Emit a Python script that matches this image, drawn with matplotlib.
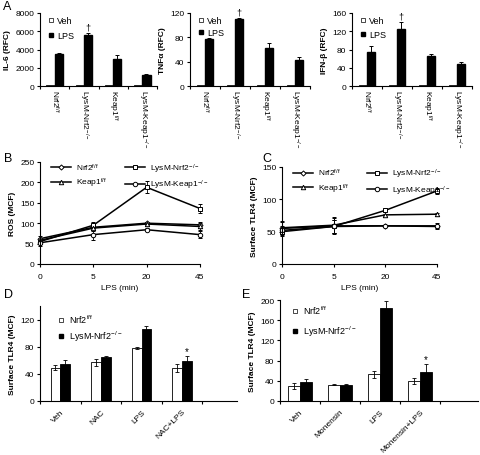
import numpy as np
import matplotlib.pyplot as plt
from matplotlib.lines import Line2D

plt.rcParams['font.family'] = ['Liberation Sans', 'DejaVu Sans']
plt.rcParams['mathtext.fontset'] = 'custom'
plt.rcParams['mathtext.rm'] = 'Liberation Sans'
plt.rcParams['mathtext.it'] = 'Liberation Sans:italic'
plt.rcParams['mathtext.bf'] = 'Liberation Sans:bold'
plt.rcParams['font.size'] = 6
plt.rcParams['axes.linewidth'] = 0.8
plt.rcParams['xtick.major.width'] = 0.8
plt.rcParams['ytick.major.width'] = 0.8
plt.rcParams['xtick.minor.width'] = 0.8
plt.rcParams['ytick.major.size'] = 2.5
plt.rcParams['xtick.minor.size'] = 2.5

# --- data ---
genotypes = ['Nrf2$^{\\mathrm{f/f}}$', 'LysM-Nrf2$^{\\mathrm{-/-}}$',
             'Keap1$^{\\mathrm{f/f}}$', 'LysM-Keap1$^{\\mathrm{-/-}}$']

il6_veh = [60, 60, 60, 60]
il6_lps = [3500, 5600, 3000, 1200]
il6_err = [100, 250, 400, 100]

tnf_veh = [1, 1, 1, 1]
tnf_lps = [78, 110, 62, 43]
tnf_err = [1, 2, 8, 4]

ifn_veh = [1.5, 2, 1.5, 1.5]
ifn_lps = [75, 125, 65, 49]
ifn_err = [12, 15, 5, 3]

time_labels = ['0', '5', '20', '45']
line_names = genotypes
line_markers = ['D', 's', '^', 'o']

ros_vals = [[62, 90, 100, 96],
            [55, 95, 188, 136],
            [58, 88, 98, 92],
            [52, 72, 84, 72]]
ros_err = [[6, 6, 4, 8],
           [5, 8, 15, 10],
           [6, 6, 4, 8],
           [8, 12, 4, 8]]

tlr_vals = [[55, 59, 59, 58],
            [50, 58, 83, 113],
            [56, 60, 76, 77],
            [52, 58, 59, 59]]
tlr_err = [[10, 12, 2, 3],
           [6, 10, 3, 5],
           [10, 12, 2, 2],
           [6, 10, 2, 5]]

nac_groups = ['Veh', 'NAC', 'LPS', 'NAC+LPS']
nac_wt = [49, 57, 78, 49]
nac_wt_err = [4, 5, 2, 6]
nac_ko = [54, 65, 106, 59]
nac_ko_err = [7, 2, 4, 7]

mon_groups = ['Veh', 'Monensin', 'LPS', 'Monensin+LPS']
mon_wt = [30, 32, 53, 39]
mon_wt_err = [6, 1, 7, 6]
mon_ko = [38, 32, 185, 57]
mon_ko_err = [6, 1, 13, 16]

W, H = 480, 456


def px_rect(l, t, r, b):
    return [l / W, 1 - b / H, (r - l) / W, (b - t) / H]


def style_axes(ax):
    ax.spines['top'].set_visible(False)
    ax.spines['right'].set_visible(False)
    ax.tick_params(axis='y', direction='out', pad=1.5, labelsize=6)


fig = plt.figure(figsize=(4.8, 4.56), dpi=100)


# --- panel A ---
def panel_a(rect, veh, lps, err, ylabel, ymax, yticks, legend_spacing):
    ax = fig.add_axes(px_rect(*rect))
    x = np.arange(len(genotypes))
    w = 0.28
    ax.bar(x - w / 2, veh, w, color='white', edgecolor='black', lw=0.6)
    ax.bar(x + w / 2, lps, w, yerr=err, color='black', edgecolor='black',
           error_kw=dict(lw=0.7, capsize=1.5, capthick=0.7))
    ax.text(x[1] + w / 2, lps[1] + err[1] + ymax * 0.02, '\u2020',
            ha='center', va='bottom', fontsize=6.5)
    ax.set_xlim(-0.5, 3.5)
    ax.set_ylim(0, ymax)
    ax.set_yticks(yticks)
    ax.set_xticks(x)
    ax.set_xticklabels(genotypes, rotation=-90, ha='center', va='top', fontsize=6)
    ax.set_xticks(np.arange(-0.5, 4, 1), minor=True)
    ax.tick_params(axis='x', which='major', length=0, pad=2)
    ax.set_ylabel(ylabel, fontweight='bold', fontsize=6, labelpad=3)
    style_axes(ax)
    handles = [Line2D([], [], ls='none', marker='s', ms=3.5, mfc='white', mec='black', mew=0.5),
               Line2D([], [], ls='none', marker='s', ms=3.5, mfc='black', mec='black')]
    ax.legend(handles, ['Veh', 'LPS'], loc='upper left', bbox_to_anchor=(0.02, 1.04),
              frameon=False, handlelength=0.6, handletextpad=0.3,
              labelspacing=legend_spacing, fontsize=6.5, borderpad=0.2)
    return ax


panel_a((40, 14, 157, 87), il6_veh, il6_lps, il6_err, 'IL-6 (RFC)', 8000,
        [0, 2000, 4000, 6000, 8000], 0.6)
panel_a((190, 14, 310, 87), tnf_veh, tnf_lps, tnf_err, 'TNF\u03b1 (RFC)', 120,
        [0, 40, 80, 120], 0.3)
panel_a((352, 14, 472, 87), ifn_veh, ifn_lps, ifn_err, 'IFN-\u03b2 (RFC)', 160,
        [0, 40, 80, 120, 160], 0.5)


# --- panels B and C ---
def panel_line(rect, vals, errs, ylabel, ymax, yticks):
    ax = fig.add_axes(px_rect(*rect))
    x = np.arange(len(time_labels))
    handles = []
    for name, mk, v, e in zip(line_names, line_markers, vals, errs):
        ms = 3.2 if mk != 'D' else 2.6
        ax.errorbar(x, v, yerr=e, color='black', lw=1.1, marker=mk,
                    ms=ms, mfc='white', mec='black', mew=0.7,
                    elinewidth=0.6, capsize=1.5, capthick=0.6, clip_on=False)
        handles.append(Line2D([], [], color='black', lw=1.1, marker=mk, ms=ms,
                              mfc='white', mec='black', mew=0.7))
    ax.set_xlim(0, 3)
    ax.set_ylim(0, ymax)
    ax.set_yticks(yticks)
    ax.set_xticks(x)
    ax.set_xticklabels(time_labels, fontsize=6)
    ax.tick_params(axis='x', direction='out', length=2.5, pad=4)
    ax.set_xlabel('LPS (min)', fontsize=6, labelpad=3)
    ax.set_ylabel(ylabel, fontweight='bold', fontsize=6, labelpad=3)
    style_axes(ax)
    order = [0, 2, 1, 3]
    ax.legend([handles[i] for i in order], [line_names[i] for i in order], ncol=2,
              loc='upper left', bbox_to_anchor=(0.02, 1.08), frameon=False,
              handlelength=2.4, handletextpad=0.6, columnspacing=2.2,
              labelspacing=0.4, fontsize=6)
    return ax


panel_line((40, 163, 200, 265), ros_vals, ros_err, 'ROS (MCF)', 250,
           [0, 50, 100, 150, 200, 250])
panel_line((282, 168, 437, 265), tlr_vals, tlr_err, 'Surface TLR4 (MCF)', 150,
           [0, 50, 100, 150])


# --- panels D and E ---
def panel_pair(rect, groups, wt, wt_err, ko, ko_err, ymax, yticks, w, xmax,
               leg_anchor, leg_spacing):
    ax = fig.add_axes(px_rect(*rect))
    x = np.arange(len(groups))
    ek = dict(lw=0.6, capsize=1.5, capthick=0.6)
    ax.bar(x - w / 2, wt, w, yerr=wt_err, color='white', edgecolor='black',
           lw=0.6, error_kw=ek)
    ax.bar(x + w / 2, ko, w, yerr=ko_err, color='black', edgecolor='black',
           lw=0.6, error_kw=ek)
    ax.text(x[3] + w / 2, ko[3] + ko_err[3], '*', ha='center', va='bottom', fontsize=7)
    ax.set_xlim(-0.5, xmax)
    ax.set_ylim(0, ymax)
    ax.set_yticks(yticks)
    ax.set_xticks(x)
    ax.set_xticklabels(groups, rotation=45, ha='right', rotation_mode='anchor',
                       fontsize=6)
    ax.set_xticks(np.arange(-0.5, 4, 1), minor=True)
    ax.tick_params(axis='x', which='major', length=0, pad=5)
    ax.set_ylabel('Surface TLR4 (MCF)', fontweight='bold', fontsize=6, labelpad=3)
    style_axes(ax)
    handles = [Line2D([], [], ls='none', marker='s', ms=3.5, mfc='white', mec='black', mew=0.5),
               Line2D([], [], ls='none', marker='s', ms=3.5, mfc='black', mec='black')]
    ax.legend(handles, ['Nrf2$^{\\mathrm{f/f}}$', 'LysM-Nrf2$^{\\mathrm{-/-}}$'],
              loc='upper left', bbox_to_anchor=leg_anchor, frameon=False,
              handlelength=0.6, handletextpad=0.6, labelspacing=leg_spacing,
              fontsize=6.5, borderpad=0.2)
    return ax


panel_pair((40, 307, 237, 402), nac_groups, nac_wt, nac_wt_err, nac_ko, nac_ko_err,
           140, [0, 40, 80, 120], 0.24, 4.35, (0.06, 1.0), 0.4)
panel_pair((280, 301, 478, 402), mon_groups, mon_wt, mon_wt_err, mon_ko, mon_ko_err,
           200, [0, 40, 80, 120, 160, 200], 0.3, 4.45, (0.03, 1.03), 0.9)

# panel letters
for letter, xp, yp in [('A', 3, 1), ('B', 4, 153), ('C', 262, 153),
                       ('D', 4, 289), ('E', 242, 289)]:
    fig.text(xp / W, 1 - yp / H, letter, fontsize=9, ha='left', va='top')

fig.savefig('out.png', dpi=100)
